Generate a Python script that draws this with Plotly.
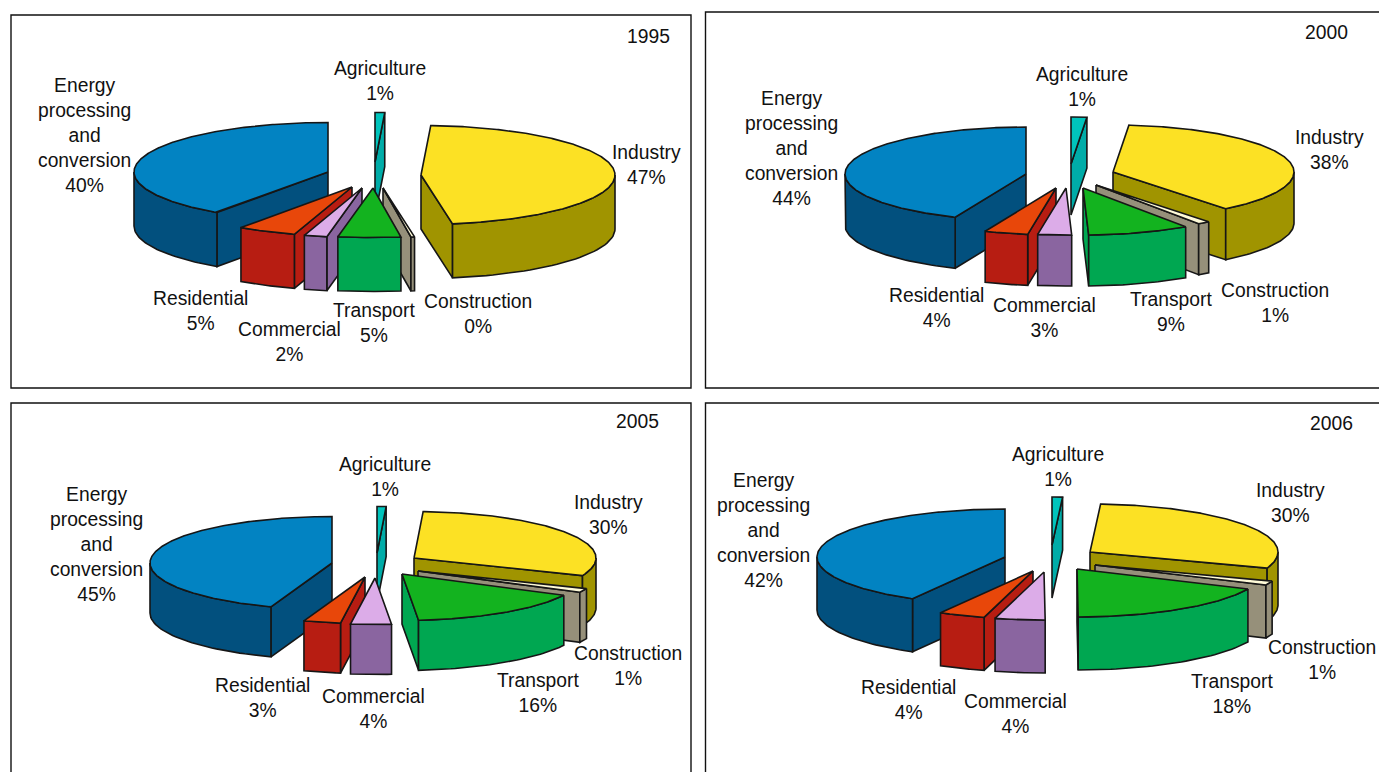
import numpy as np
import plotly.graph_objects as go

# ---------- data ----------
categories = ["Agriculture", "Industry", "Construction", "Transport",
              "Commercial", "Residential", "Energy<br>processing<br>and<br>conversion"]
years = ["1995", "2000", "2005", "2006"]
# shares in % (the printed labels are these, rounded)
shares_1995 = [0.8, 46.6, 0.3, 5.2, 1.9, 4.9, 40.3]
shares_2000 = [1.4, 37.9, 1.1, 9.1, 3.0, 3.9, 43.6]
shares_2005 = [0.8, 30.4, 1.4, 16.0, 3.6, 3.3, 44.6]
shares_2006 = [0.9, 29.6, 1.4, 18.1, 4.3, 4.0, 41.9]
all_shares = [shares_1995, shares_2000, shares_2005, shares_2006]

# ---------- styling and layout ----------
top_colors = ["#00C4BC", "#FCE124", "#FFFBD8", "#13B31F", "#DCACE8", "#E8470A", "#0283C2"]
side_colors = ["#00ACA8", "#A09400", "#96907A", "#00A751", "#8A65A0", "#B71D12", "#02507E"]
draw_order = [0, 1, 6, 2, 5, 4, 3]
OUTLINE = "#161616"
FONT = "Liberation Sans, Arial, sans-serif"
FONT_SIZE = 19.3

# radius x, radius y, depth of each pie (pixels)
pie_shapes = [(194, 49.5, 54), (181, 47, 51), (182, 46.5, 50), (188, 48, 53)]
# exploded slice apex for each category, in category order
apexes = [
    [(375, 162), (421, 175), (383, 188), (373, 188), (362, 188), (352, 187), (328, 172)],
    [(1071, 164), (1113, 172), (1096, 185), (1083, 188), (1066, 188), (1056, 188), (1026, 174)],
    [(377, 553), (414, 558), (418, 571), (402, 574), (375, 578), (365, 577), (332, 563)],
    [(1052, 545), (1090, 552), (1095, 565), (1077, 569), (1044, 572), (1033, 571), (1005, 557)],
]
# label centres, in category order
label_pos = [
    [(380, 81), (646, 165), (478, 314), (374, 323), (289, 342), (200, 311), (84, 135)],
    [(1082, 87), (1329, 150), (1275, 303), (1171, 312), (1044, 318), (936, 308), (791, 148)],
    [(385, 477), (608, 515), (628, 666), (538, 693), (373, 709), (262, 698), (96, 544)],
    [(1058, 467), (1290, 503), (1322, 660), (1232, 694), (1015, 714), (908, 700), (763, 530)],
]
year_pos = [(648, 36), (1326, 32), (637, 421), (1331, 423)]
panels = [(11, 15, 691, 388), (705.5, 12, 1400, 388), (11, 403, 691, 800), (705.5, 403, 1400, 800)]


def rim(apex, shape, a_deg):
    a = np.radians(a_deg)
    return apex[0] + shape[0] * np.sin(a), apex[1] - shape[1] * np.cos(a)


def add_poly(fig, xs, ys, fill, name):
    fig.add_trace(go.Scatter(
        x=list(xs) + [xs[0]], y=list(ys) + [ys[0]], mode="lines", fill="toself",
        fillcolor=fill, line=dict(color=OUTLINE, width=1.6), name=name,
        hoverinfo="name", showlegend=False))


def add_wall(fig, apex, shape, ang, color, name):
    rx, ry = rim(apex, shape, ang)
    d = shape[2]
    add_poly(fig, [apex[0], rx, rx, apex[0]], [apex[1], ry, ry + d, apex[1] + d], color, name)


fig = go.Figure()

for p, shares in enumerate(all_shares):
    shape = pie_shapes[p]
    total = sum(shares)
    edges = np.concatenate([[0.0], np.cumsum(shares)]) / total * 360.0
    for i in draw_order:
        a0, a1 = edges[i], edges[i + 1]
        apex = apexes[p][i]
        name = f"{years[p]} {categories[i].replace('<br>', ' ')}"
        if np.sin(np.radians(a0)) < 0:
            add_wall(fig, apex, shape, a0, side_colors[i], name)
        if np.sin(np.radians(a1)) > 0:
            add_wall(fig, apex, shape, a1, side_colors[i], name)
        lo, hi = max(a0, 90.0), min(a1, 270.0)
        if hi > lo:
            t = np.linspace(lo, hi, 40)
            x, y = rim(apex, shape, t)
            add_poly(fig, np.concatenate([x, x[::-1]]),
                     np.concatenate([y, y[::-1] + shape[2]]), side_colors[i], name)
        t = np.linspace(a0, a1, max(int(a1 - a0) * 2, 4))
        x, y = rim(apex, shape, t)
        add_poly(fig, np.concatenate([[apex[0]], x]), np.concatenate([[apex[1]], y]),
                 top_colors[i], name)

    for i, cat in enumerate(categories):
        fig.add_annotation(x=label_pos[p][i][0], y=label_pos[p][i][1], xref="x", yref="y",
                           text=f"{cat}<br>{round(shares[i])}%", showarrow=False,
                           xanchor="center", yanchor="middle", align="center")
    fig.add_annotation(x=year_pos[p][0], y=year_pos[p][1], xref="x", yref="y", text=years[p],
                       showarrow=False, xanchor="center", yanchor="middle")
    x0, y0, x1, y1 = panels[p]
    fig.add_shape(type="rect", x0=x0, y0=y0, x1=x1, y1=y1, xref="x", yref="y",
                  line=dict(color="#111111", width=1.4), layer="below")

fig.update_layout(
    width=1379, height=772, margin=dict(l=0, r=0, t=0, b=0),
    paper_bgcolor="white", plot_bgcolor="white", showlegend=False,
    font=dict(family=FONT, size=FONT_SIZE, color="#111111"),
    xaxis=dict(range=[0, 1379], visible=False, fixedrange=True),
    yaxis=dict(range=[772, 0], visible=False, fixedrange=True),
)
fig.write_html("out.html", config={"displayModeBar": False},
               post_script="document.body.style.margin='0';")
